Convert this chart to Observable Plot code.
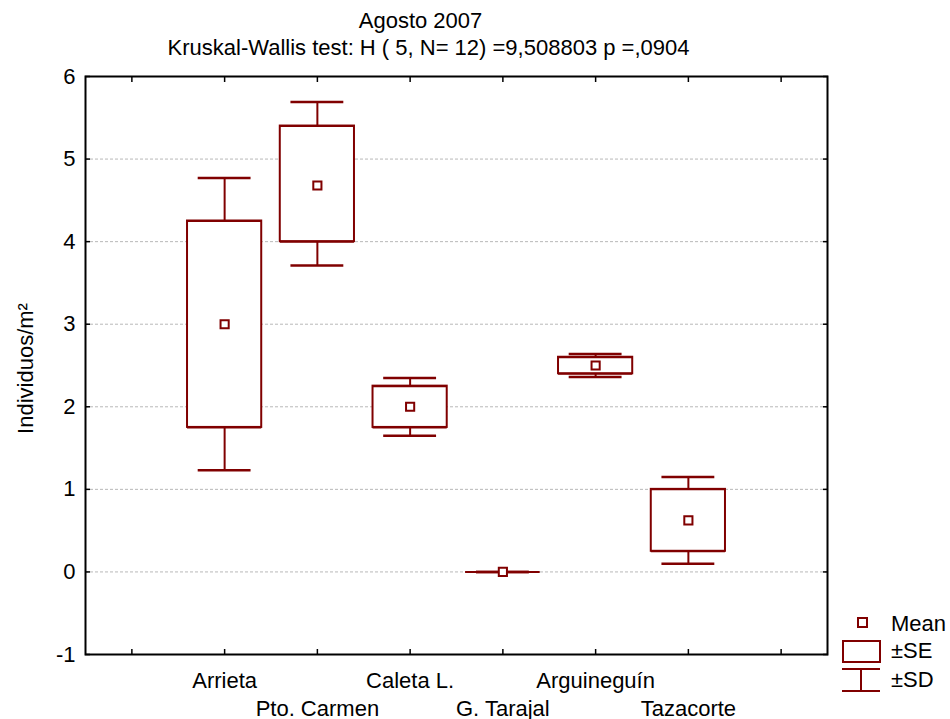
<!DOCTYPE html>
<html>
<head>
<meta charset="utf-8">
<script src="https://cdn.jsdelivr.net/npm/d3@7"></script>
<script src="https://cdn.jsdelivr.net/npm/@observablehq/plot@0.6"></script>
<style>
  body { margin: 0; background: white; }
  #chart { width: 950px; height: 719px; }
</style>
</head>
<body>
<div id="chart"></div>
<script>
// ---- data ----
const sites  = ["Arrieta", "Pto. Carmen", "Caleta L.", "G. Tarajal", "Arguineguín", "Tazacorte"];
const means  = [3.00, 4.68, 2.00, 0.00, 2.50, 0.625];
const seLow  = [1.75, 4.00, 1.75, 0.00, 2.40, 0.25];
const seHigh = [4.25, 5.40, 2.25, 0.00, 2.60, 1.00];
const sdLow  = [1.23, 3.71, 1.65, 0.00, 2.36, 0.10];
const sdHigh = [4.77, 5.69, 2.35, 0.00, 2.64, 1.15];
const xTicks = [0, 1, 2, 3, 4, 5, 6, 7];
const yTicks = [-1, 0, 1, 2, 3, 4, 5, 6];
const gridTicks = [0, 1, 2, 3, 4, 5];
const title = "Agosto 2007";
const subtitle = "Kruskal-Wallis test: H ( 5, N= 12) =9,508803 p =,0904";
const yLabel = "Individuos/m²";
const legendLabels = ["Mean", "±SE", "±SD"];

const rows = sites.map((s, i) => ({
  site: s, pos: i + 1, mean: means[i],
  seLo: seLow[i], seHi: seHigh[i], sdLo: sdLow[i], sdHi: sdHigh[i]
}));

const RED = "#800000";
const BOX = 0.4;   // half box width (x units)
const CAP = 0.285; // half cap width (x units)
const FONT = "Liberation Sans, Arial, Helvetica, sans-serif";
const FS = 22;

const chart = Plot.plot({
  width: 950,
  height: 719,
  marginTop: 76,
  marginLeft: 85,
  marginRight: 123,
  marginBottom: 65,
  style: { fontFamily: FONT, fontSize: FS + "px", color: "black", background: "white" },
  x: { domain: [-0.5, 7.5], axis: null },
  y: { domain: [-1, 6], axis: null },
  marks: [
    Plot.gridY(gridTicks, { stroke: "#b8b8b8", strokeOpacity: 1, strokeWidth: 1, strokeDasharray: "3,2" }),
    // inward ticks
    Plot.axisX({ anchor: "top", ticks: xTicks, tickSize: -5, fill: "none", label: null, stroke: "black", strokeWidth: 1.5 }),
    Plot.axisX({ anchor: "bottom", ticks: xTicks, tickSize: -5, fill: "none", label: null, stroke: "black", strokeWidth: 1.5 }),
    Plot.axisY({ anchor: "left", ticks: yTicks, tickSize: -5, fill: "none", label: null, stroke: "black", strokeWidth: 1.5 }),
    Plot.axisY({ anchor: "right", ticks: yTicks, tickSize: -5, fill: "none", label: null, stroke: "black", strokeWidth: 1.5 }),
    // y tick labels
    Plot.axisY({ anchor: "left", ticks: yTicks, tickSize: 0, tickPadding: 10, label: null, fontSize: FS, tickFormat: d => String(d) }),
    // whiskers
    Plot.ruleX(rows, { x: "pos", y1: "sdLo", y2: "seLo", stroke: RED, strokeWidth: 2 }),
    Plot.ruleX(rows, { x: "pos", y1: "seHi", y2: "sdHi", stroke: RED, strokeWidth: 2 }),
    // SE boxes
    Plot.rect(rows, { x1: d => d.pos - BOX, x2: d => d.pos + BOX, y1: "seLo", y2: "seHi", fill: "white", stroke: RED, strokeWidth: 2 }),
    Plot.ruleY(rows, { x1: d => d.pos - BOX, x2: d => d.pos + BOX, y: "seLo", stroke: RED, strokeWidth: 2 }),
    Plot.ruleY(rows, { x1: d => d.pos - BOX, x2: d => d.pos + BOX, y: "seHi", stroke: RED, strokeWidth: 2 }),
    // SD caps
    Plot.ruleY(rows, { x1: d => d.pos - CAP, x2: d => d.pos + CAP, y: "sdLo", stroke: RED, strokeWidth: 2.5 }),
    Plot.ruleY(rows, { x1: d => d.pos - CAP, x2: d => d.pos + CAP, y: "sdHi", stroke: RED, strokeWidth: 2.5 }),
    // means
    Plot.dot(rows, { x: "pos", y: "mean", symbol: "square", r: 4.6, fill: "white", stroke: RED, strokeWidth: 2 }),
    // x category labels, alternating rows
    Plot.text(rows.filter((d, i) => i % 2 === 0), { x: "pos", text: "site", frameAnchor: "bottom", lineAnchor: "bottom", dy: 33, fontSize: FS, fill: "black" }),
    Plot.text(rows.filter((d, i) => i % 2 === 1), { x: "pos", text: "site", frameAnchor: "bottom", lineAnchor: "bottom", dy: 61, fontSize: FS, fill: "black" }),
    // frame
    Plot.frame({ stroke: "black", strokeWidth: 2 }),
    // titles and y label
    Plot.text([title], { text: d => d, frameAnchor: "top", lineAnchor: "bottom", dx: -36, dy: -49, fontSize: FS, fill: "black" }),
    Plot.text([subtitle], { text: d => d, frameAnchor: "top", lineAnchor: "bottom", dx: -28, dy: -22, fontSize: FS, fill: "black" }),
    Plot.text([yLabel], { text: d => d, frameAnchor: "left", textAnchor: "middle", lineAnchor: "middle", rotate: -90, dx: -60, dy: 3, fontSize: FS, fill: "black" })
  ]
});

// legend (outside plot area, bottom right)
const svg = d3.select(chart);
const lg = svg.append("g").attr("font-family", FONT).attr("font-size", FS).attr("fill", "black").attr("text-anchor", "start");
lg.append("rect").attr("x", 858).attr("y", 618).attr("width", 9).attr("height", 9)
  .attr("fill", "white").attr("stroke", RED).attr("stroke-width", 2);
lg.append("rect").attr("x", 843).attr("y", 641).attr("width", 37).attr("height", 21)
  .attr("fill", "white").attr("stroke", RED).attr("stroke-width", 2);
lg.append("line").attr("x1", 842).attr("x2", 880).attr("y1", 669).attr("y2", 669).attr("stroke", RED).attr("stroke-width", 2);
lg.append("line").attr("x1", 842).attr("x2", 880).attr("y1", 691).attr("y2", 691).attr("stroke", RED).attr("stroke-width", 2);
lg.append("line").attr("x1", 861).attr("x2", 861).attr("y1", 669).attr("y2", 691).attr("stroke", RED).attr("stroke-width", 2);
const ly = [631, 658, 687];
legendLabels.forEach((t, i) => lg.append("text").attr("x", 891).attr("y", ly[i]).attr("text-anchor", "start").text(t));

document.getElementById("chart").appendChild(chart);
</script>
</body>
</html>
